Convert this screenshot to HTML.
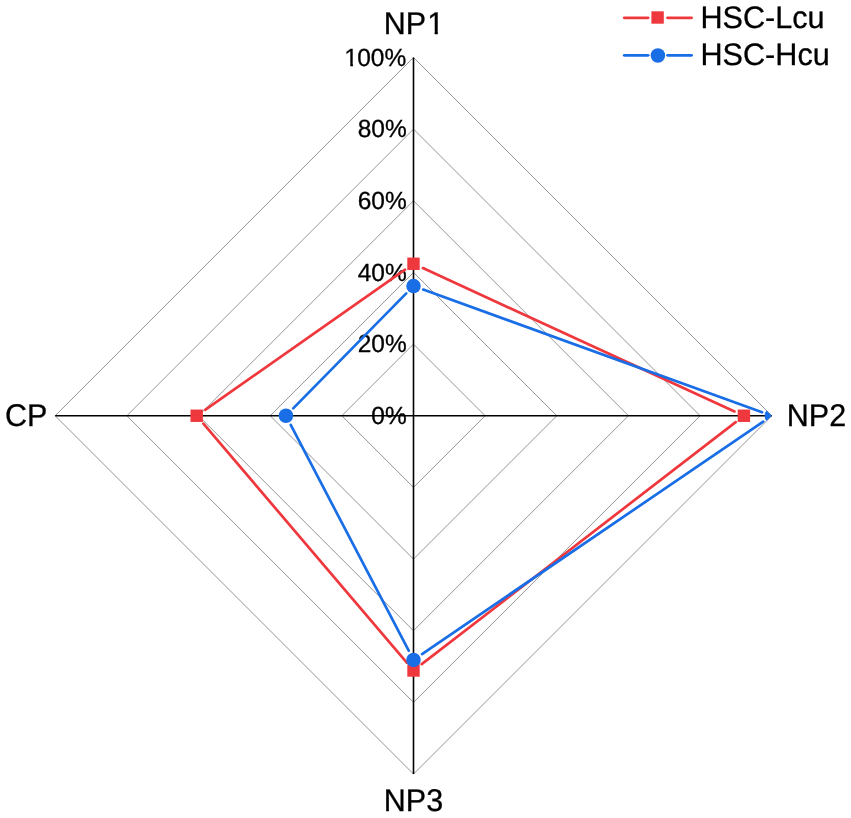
<!DOCTYPE html>
<html><head><meta charset="utf-8"><title>Radar chart: HSC-Lcu vs HSC-Hcu</title><style>
html,body{margin:0;padding:0;background:#fff;width:851px;height:818px;overflow:hidden}
svg{display:block;will-change:transform}
text{font-family:"Liberation Sans",sans-serif;fill:#000;stroke:#000;stroke-width:0.3px;text-rendering:geometricPrecision}
</style></head><body>
<svg width="851" height="818" viewBox="0 0 851 818">
<defs><clipPath id="cp"><polygon points="413.5,57.44999999999999 771.8,415.75 413.5,774.05 55.19999999999999,415.75"/></clipPath></defs>
<polygon points="413.5,344.09 485.16,415.75 413.5,487.41 341.84,415.75" fill="none" stroke="#959595" stroke-width="1"/>
<polygon points="413.5,272.43 556.82,415.75 413.5,559.07 270.18,415.75" fill="none" stroke="#959595" stroke-width="1"/>
<polygon points="413.5,200.77 628.48,415.75 413.5,630.73 198.52,415.75" fill="none" stroke="#959595" stroke-width="1"/>
<polygon points="413.5,129.11 700.14,415.75 413.5,702.39 126.86,415.75" fill="none" stroke="#959595" stroke-width="1"/>
<polygon points="413.5,57.45 771.80,415.75 413.5,774.05 55.20,415.75" fill="none" stroke="#959595" stroke-width="1"/>
<line x1="413.5" y1="415.75" x2="413.50" y2="57.45" stroke="#000" stroke-width="1.6"/>
<line x1="413.5" y1="415.75" x2="771.80" y2="415.75" stroke="#000" stroke-width="1.6"/>
<line x1="413.5" y1="415.75" x2="413.50" y2="774.05" stroke="#000" stroke-width="1.6"/>
<line x1="413.5" y1="415.75" x2="55.20" y2="415.75" stroke="#000" stroke-width="1.6"/>
<text transform="translate(406.70,423.50) scale(1,1.012)" text-anchor="end" font-size="24.5">0%</text>
<text transform="translate(406.70,351.84) scale(1,1.012)" text-anchor="end" font-size="24.5">20%</text>
<text transform="translate(406.70,280.78) scale(1,1.012)" text-anchor="end" font-size="24.5">40%</text>
<text transform="translate(406.70,208.52) scale(1,1.012)" text-anchor="end" font-size="24.5">60%</text>
<text transform="translate(406.70,136.86) scale(1,1.012)" text-anchor="end" font-size="24.5">80%</text>
<text transform="translate(343.54,65.80) scale(1,1.012)" font-size="24.5"><tspan dx="0.81">1</tspan><tspan dx="-0.81">00%</tspan></text>
<rect x="345.22" y="63.45" width="5.04" height="3.75" fill="#fff"/><rect x="352.93" y="63.45" width="4.85" height="3.75" fill="#fff"/>
<text transform="translate(414.01,33.60) scale(1,1.03)" text-anchor="middle" font-size="30.5">NP<tspan dx="1.01">1</tspan></text>
<rect x="428.54" y="30.95" width="6.10" height="4.25" fill="#fff"/><rect x="437.83" y="30.95" width="5.86" height="4.25" fill="#fff"/>
<text transform="translate(413.50,811.30) scale(1,1.03)" text-anchor="middle" font-size="30.5">NP3</text>
<text transform="translate(786.80,426.20) scale(1,1.03)" font-size="30.5">NP2</text>
<text transform="translate(47.30,426.10) scale(1,1.03)" text-anchor="end" font-size="30.5">CP</text>
<g clip-path="url(#cp)">
<line x1="422.90" y1="268.08" x2="734.49" y2="411.42" stroke="#EF383D" stroke-width="2.7" stroke-linecap="round"/>
<line x1="735.69" y1="422.07" x2="421.70" y2="664.18" stroke="#EF383D" stroke-width="2.7" stroke-linecap="round"/>
<line x1="406.79" y1="662.62" x2="203.40" y2="423.63" stroke="#EF383D" stroke-width="2.7" stroke-linecap="round"/>
<line x1="205.17" y1="409.81" x2="405.03" y2="269.70" stroke="#EF383D" stroke-width="2.7" stroke-linecap="round"/>
<rect x="407.30" y="257.56" width="12.4" height="12.4" fill="#EF383D"/>
<rect x="737.69" y="409.55" width="12.4" height="12.4" fill="#EF383D"/>
<rect x="407.30" y="664.30" width="12.4" height="12.4" fill="#EF383D"/>
<rect x="190.49" y="409.55" width="12.4" height="12.4" fill="#EF383D"/>
<line x1="423.23" y1="289.53" x2="762.07" y2="412.23" stroke="#196EE6" stroke-width="2.7" stroke-linecap="round"/>
<line x1="763.25" y1="421.58" x2="422.05" y2="654.07" stroke="#196EE6" stroke-width="2.7" stroke-linecap="round"/>
<line x1="408.71" y1="650.72" x2="290.74" y2="424.92" stroke="#196EE6" stroke-width="2.7" stroke-linecap="round"/>
<line x1="293.20" y1="408.37" x2="406.24" y2="293.39" stroke="#196EE6" stroke-width="2.7" stroke-linecap="round"/>
<circle cx="413.50" cy="286.01" r="7.25" fill="#196EE6"/>
<circle cx="771.80" cy="415.75" r="7.25" fill="#196EE6"/>
<circle cx="413.50" cy="659.90" r="7.25" fill="#196EE6"/>
<circle cx="285.95" cy="415.75" r="7.25" fill="#196EE6"/>
</g>
<line x1="624.2" y1="17.8" x2="648.2" y2="17.8" stroke="#EF383D" stroke-width="2.7" stroke-linecap="round"/>
<line x1="667.5" y1="17.8" x2="691.6" y2="17.8" stroke="#EF383D" stroke-width="2.7" stroke-linecap="round"/>
<rect x="651.40" y="11.30" width="12.4" height="12.4" fill="#EF383D"/>
<line x1="624.2" y1="55.3" x2="648.2" y2="55.3" stroke="#196EE6" stroke-width="2.7" stroke-linecap="round"/>
<line x1="667.5" y1="55.3" x2="691.6" y2="55.3" stroke="#196EE6" stroke-width="2.7" stroke-linecap="round"/>
<circle cx="657.90" cy="55.50" r="7.25" fill="#196EE6"/>
<text transform="translate(700.50,28.15) scale(1,1.017)" font-size="30.6">HSC-Lcu</text>
<text transform="translate(700.50,65.30) scale(1,1.017)" font-size="30.6">HSC-Hcu</text>
</svg>
</body></html>
